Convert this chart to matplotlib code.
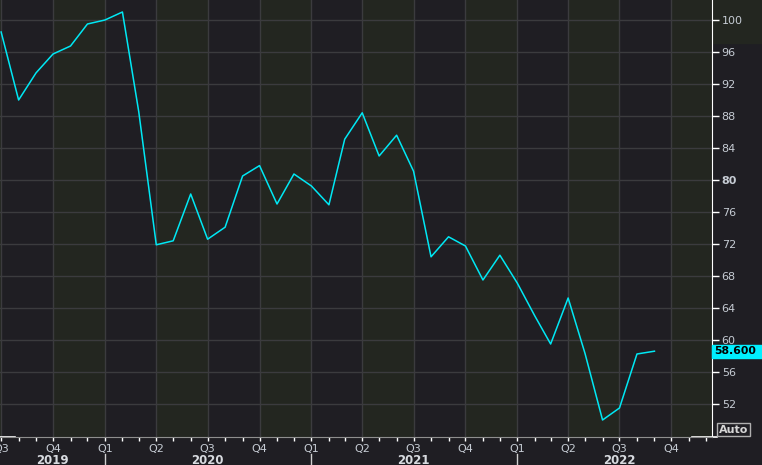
import matplotlib
matplotlib.use('Agg')
import matplotlib.pyplot as plt
import matplotlib.dates as mdates
from matplotlib.patches import Rectangle
from matplotlib.transforms import blended_transform_factory
import pandas as pd

# monthly readings, Jul 2019 .. Sep 2022
start_month = '2019-07-01'
values = [
    98.5, 90.0, 93.4, 95.75, 96.75, 99.5,
    100.0, 101.0, 88.5, 71.9, 72.4, 78.25, 72.6, 74.1, 80.5, 81.8, 77.0, 80.75,
    79.25, 76.9, 85.1, 88.4, 83.0, 85.6, 81.1, 70.4, 72.9, 71.75, 67.5, 70.6,
    67.1, 63.0, 59.5, 65.25, 58.3, 50.0, 51.5, 58.25, 58.6,
]
years = [2019, 2020, 2021, 2022]
y_ticks = [52, 56, 60, 64, 68, 72, 76, 80, 84, 88, 92, 96, 100]
last_label = '58.600'

dates = pd.date_range(start_month, periods=len(values), freq='MS')

BG = '#1f1e23'
BAND = '#232620'
GRID = '#3b3b3e'
TXT = '#c6ccd4'
CYAN = '#00e8f4'

fig = plt.figure(figsize=(7.62, 4.65), dpi=100, facecolor=BG)

# faint block at the top right, behind everything
fig.patches.append(Rectangle((712 / 762, 1 - 43 / 465), 50 / 762, 43 / 465,
                             transform=fig.transFigure, color=BAND, zorder=-5))

ax = fig.add_axes([0, 28 / 465, 712 / 762, 437 / 465])
ax.set_facecolor(BG)

x_left = pd.Timestamp('2019-06-29')
x_right = pd.Timestamp('2022-12-12')
ax.set_xlim(x_left, x_right)
ax.set_ylim(47.875, 102.5)

# shaded Q2 / Q4 bands
q = pd.date_range('2019-04-01', '2023-01-01', freq='QS')
for s in q:
    if s.month in (4, 10):
        ax.axvspan(s, s + pd.offsets.QuarterBegin(startingMonth=1), color=BAND, lw=0, zorder=0)

ax.plot(dates, values, color=CYAN, lw=1.1, zorder=3)

# x axis: quarters major, months minor
ax.xaxis.set_major_locator(mdates.MonthLocator(bymonth=[1, 4, 7, 10]))
ax.xaxis.set_minor_locator(mdates.MonthLocator())
ax.xaxis.set_major_formatter(plt.FuncFormatter(
    lambda v, p: 'Q%d' % ((mdates.num2date(v).month - 1) // 3 + 1)))
ax.tick_params(axis='x', which='both', length=3, width=1, color='white',
               labelcolor=TXT, labelsize=8, pad=2)

# y axis on the right
ax.yaxis.tick_right()
ax.set_yticks(y_ticks)
ax.tick_params(axis='y', length=5, width=1, color='white', labelcolor=TXT,
               labelsize=8, pad=2)
for lab in ax.get_yticklabels():
    if lab.get_text() == '80':
        lab.set_fontweight('bold')

ax.grid(True, which='major', color=GRID, lw=1, zorder=1)
ax.set_axisbelow(True)

for side in ('top', 'left'):
    ax.spines[side].set_visible(False)
ax.spines['right'].set_color('white')
ax.spines['bottom'].set_color('#8e8e8e')
ax.plot([0, 15 / 712], [0, 0], transform=ax.transAxes, color='white', lw=1.2, clip_on=False)
ax.plot([692 / 712, 717 / 712], [0, 0], transform=ax.transAxes, color='white', lw=1.2, clip_on=False)

# last value tag
tr = blended_transform_factory(ax.transAxes, ax.transData)
ax.add_patch(Rectangle((1.0, values[-1] - 0.82), 50 / 712, 1.64, transform=tr,
                       color='#00f0ff', clip_on=False, zorder=5))
ax.text(1 + 2 / 712, values[-1], last_label, transform=tr, ha='left', va='center',
        fontsize=7.8, fontweight='bold', color='black', zorder=6)

# year labels and separators
xl = mdates.date2num(x_left)
xr = mdates.date2num(x_right)
to_fig = lambda d: (d - xl) / (xr - xl) * (712 / 762)
for yr in years:
    a = max(mdates.date2num(pd.Timestamp(f'{yr}-01-01')), xl)
    b = min(mdates.date2num(pd.Timestamp(f'{yr}-12-31')), xr)
    mid = mdates.date2num(pd.Timestamp(f'{yr}-07-01')) if yr > years[0] else (a + b) / 2
    fig.text(to_fig(mid), 5 / 465, str(yr), ha='center', va='center',
             fontsize=8.5, fontweight='bold', color='#d8dbe0')
    if yr > years[0]:
        fx = to_fig(mdates.date2num(pd.Timestamp(f'{yr}-01-01')))
        fig.add_artist(plt.Line2D([fx, fx], [0, 11 / 465], color='#d0d0d0', lw=1))

fig.text(733.5 / 762, 1 - 429.5 / 465, 'Auto', ha='center', va='center',
         fontsize=8, fontweight='bold', color='#d6d6d6',
         bbox=dict(boxstyle='square,pad=0.12', facecolor='none', edgecolor='#b0b0b0', lw=1))

fig.savefig('out.png', dpi=100, facecolor=BG)
